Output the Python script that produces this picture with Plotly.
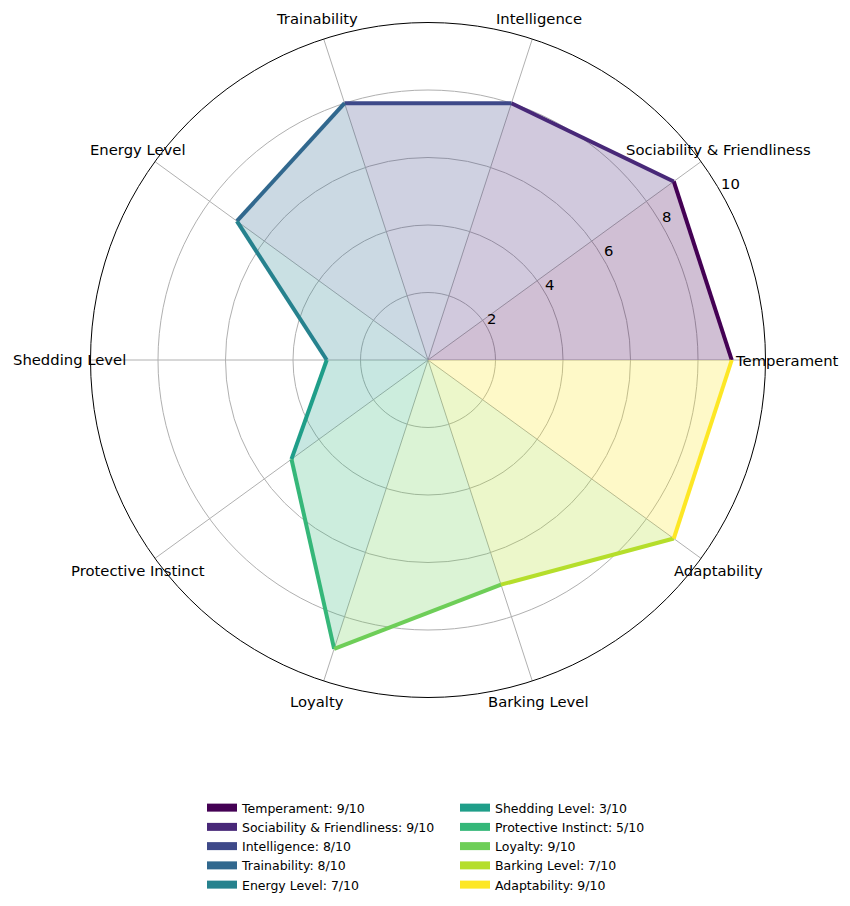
import math
import plotly.graph_objects as go

categories = ["Temperament", "Sociability & Friendliness", "Intelligence", "Trainability",
              "Energy Level", "Shedding Level", "Protective Instinct", "Loyalty",
              "Barking Level", "Adaptability"]
values = [9, 9, 8, 8, 7, 3, 5, 9, 7, 9]
colors = ["#440154", "#482878", "#3e4989", "#31688e", "#26828e",
          "#1f9e89", "#35b779", "#6ece58", "#b5de2b", "#fde725"]
radial_ticks = [2, 4, 6, 8, 10]
r_max = 10


def rgba(h, a):
    h = h.lstrip("#")
    return f"rgba({int(h[0:2],16)},{int(h[2:4],16)},{int(h[4:6],16)},{a})"


W, H = 850, 906
CX, CY = 428, 360          # polar centre in pixels (from top-left)
RAD = 337.5                # pixel radius of r = r_max
LABEL_R = 1.063            # category-label radius as a fraction of the outer radius
RLABEL_ANGLE = 30          # direction along which radial tick labels sit
FS = 14.8

n = len(categories)
step = 360 / n
angles = [i * step for i in range(n)]


def to_paper(r, theta_deg, dx=0.0, dy=0.0):
    t = math.radians(theta_deg)
    px = CX + RAD * r / r_max * math.cos(t) + dx
    py = CY - RAD * r / r_max * math.sin(t) + dy
    return px / W, 1 - py / H


fig = go.Figure()
# filled wedges
for i in range(n):
    j = (i + 1) % n
    fig.add_trace(go.Scatterpolar(
        r=[0, values[i], values[j], 0],
        theta=[angles[i], angles[i], angles[i] + step, angles[i]],
        mode="lines", fill="toself", fillcolor=rgba(colors[i], 0.25),
        line=dict(width=0, color=rgba(colors[i], 0)),
        showlegend=False, hoverinfo="skip"))

# outline segments (also the legend entries), split over two legend columns
half = (n + 1) // 2
for i in range(n):
    j = (i + 1) % n
    fig.add_trace(go.Scatterpolar(
        r=[values[i], values[j]],
        theta=[angles[i], angles[i] + step],
        mode="lines", fill="toself", fillcolor=colors[i],
        line=dict(width=4, color=colors[i]),
        name=f"{categories[i]}: {values[i]}/10",
        legend="legend" if i < half else "legend2",
        hoverinfo="skip"))

annotations = []
# category labels centred just outside the outer circle
for a, c in zip(angles, categories):
    x, y = to_paper(r_max * LABEL_R, a)
    annotations.append(dict(
        x=x, y=y, xref="paper", yref="paper",
        text=c, showarrow=False, xanchor="center", yanchor="middle",
        font=dict(size=FS, color="black", family="DejaVu Sans")))
# radial tick labels
for v in radial_ticks:
    x, y = to_paper(v, RLABEL_ANGLE, dx=-1.5, dy=-8.2)
    annotations.append(dict(
        x=x, y=y, xref="paper", yref="paper",
        text=str(v), showarrow=False, xanchor="left", yanchor="middle",
        font=dict(size=FS, color="black", family="DejaVu Sans")))

legend_common = dict(
    orientation="v", yanchor="top", y=1 - 793 / H, xanchor="left",
    font=dict(size=12.5, color="black", family="DejaVu Sans"),
    bgcolor="rgba(0,0,0,0)", traceorder="normal", tracegroupgap=0)

fig.update_layout(
    width=W, height=H,
    margin=dict(l=0, r=0, t=0, b=0),
    paper_bgcolor="white",
    font=dict(family="DejaVu Sans", color="black"),
    annotations=annotations,
    polar=dict(
        domain=dict(x=[(CX - RAD) / W, (CX + RAD) / W],
                    y=[(H - CY - RAD) / H, (H - CY + RAD) / H]),
        bgcolor="white",
        angularaxis=dict(
            tickmode="array", tickvals=angles, showticklabels=False, ticks="",
            rotation=0, direction="counterclockwise",
            showline=True, linecolor="black", linewidth=1,
            showgrid=True, gridcolor="#b0b0b0", gridwidth=1),
        radialaxis=dict(
            range=[0, r_max], tickmode="array", tickvals=radial_ticks,
            showticklabels=False, showline=False, ticks="",
            showgrid=True, gridcolor="#b0b0b0", gridwidth=1),
    ),
    legend=dict(x=202 / W, **legend_common),
    legend2=dict(x=455 / W, **legend_common),
)

fig.write_html("out.html")
